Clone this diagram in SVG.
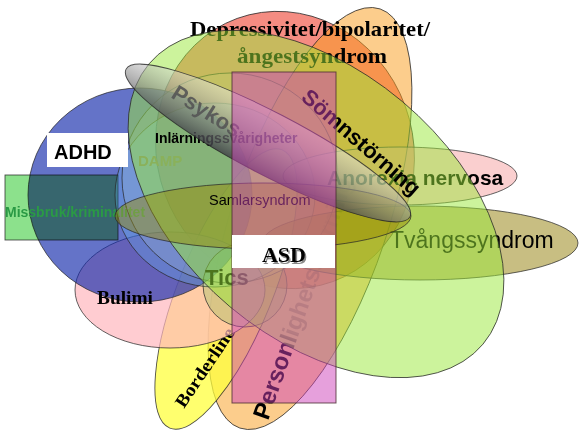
<svg xmlns="http://www.w3.org/2000/svg" width="586" height="439" viewBox="0 0 586 439">
<defs>
<linearGradient id="psyk" x1="0" y1="0" x2="0" y2="1">
<stop offset="0" stop-color="#f2f2f2" stop-opacity="0.45"/>
<stop offset="0.55" stop-color="#8c8c8c" stop-opacity="0.62"/>
<stop offset="1" stop-color="#3c3c44" stop-opacity="0.82"/>
</linearGradient>
<linearGradient id="persfade" gradientUnits="userSpaceOnUse" x1="268" y1="421" x2="522" y2="421">
<stop offset="0" stop-color="#000" stop-opacity="1"/>
<stop offset="0.3" stop-color="#000" stop-opacity="1"/>
<stop offset="0.36" stop-color="#000" stop-opacity="0.35"/>
<stop offset="1" stop-color="#000" stop-opacity="0.2"/>
</linearGradient>
</defs>
<style>
.s{stroke:#262626;stroke-opacity:0.8;stroke-width:0.9}
.ar{font-family:"Liberation Sans",Arial,sans-serif}
.bd{font-weight:bold}
.tm{font-family:"Liberation Serif","Times New Roman",serif;font-weight:bold}
</style>
<rect width="586" height="439" fill="#ffffff"/>

<g id="depressivitet-set">
<ellipse class="s" cx="285" cy="150" rx="128" ry="140" transform="rotate(-20 285 150)" fill="#ee3f2f" fill-opacity="0.6"/>
</g>

<g id="personlighetsstorning">
<ellipse class="s" cx="310" cy="218.5" rx="221" ry="78" transform="rotate(-71.5 310 218.5)" fill="#f99b19" fill-opacity="0.5"/>
<text class="ar bd" x="268" y="421" font-size="24" fill="url(#persfade)" transform="rotate(-70.5 268 421)">Personlighetsstörning</text>
</g>

<g id="borderline">
<ellipse class="s" cx="226" cy="289" rx="150" ry="47" transform="rotate(-68 226 289)" fill="#ffff3e" fill-opacity="0.75"/>
<text class="tm" x="184" y="409" font-size="18" textLength="92" lengthAdjust="spacingAndGlyphs" fill="#000" transform="rotate(-56 184 409)">Borderline</text>
</g>

<g id="bulimi">
<ellipse class="s" cx="170" cy="290" rx="95" ry="58" fill="#ffb6be" fill-opacity="0.7"/>
</g>

<g id="adhd">
<ellipse class="s" cx="140" cy="195" rx="112" ry="107" fill="#1128aa" fill-opacity="0.65"/>
</g>

<g id="missbruk">
<rect class="s" x="5" y="175" width="113" height="65" fill="#8ce18c" style="mix-blend-mode:multiply"/>
<text class="ar bd" x="5" y="217" font-size="14" fill="#2a9a45">Missbruk/kriminalitet</text>
</g>

<g id="bulimi-label">
<text class="tm" x="97" y="304" font-size="19" textLength="56" lengthAdjust="spacingAndGlyphs" fill="#000">Bulimi</text>
</g>

<g id="damp">
<ellipse class="s" cx="215" cy="195" rx="100" ry="92" fill="#66ccff" fill-opacity="0.25"/>
</g>

<g id="inlarning">
<ellipse class="s" cx="230" cy="178" rx="108" ry="105" fill="#d0ecd0" fill-opacity="0.15" stroke-opacity="0.35"/>
</g>

<g id="damp-label">
<text class="ar bd" x="138" y="166" font-size="15" fill="#7a7a7a">DAMP</text>
</g>

<g id="depressivitet-label">
<text class="tm" x="190" y="36" font-size="22" textLength="240" lengthAdjust="spacingAndGlyphs" fill="#000">Depressivitet/bipolaritet/</text>
<text class="tm" x="237" y="63" font-size="22" textLength="150" lengthAdjust="spacingAndGlyphs" fill="#000">ångestsyndrom</text>
</g>

<g id="anorexia">
<ellipse class="s" cx="400" cy="176" rx="117" ry="29" fill="#f5a0a0" fill-opacity="0.5"/>
<text class="ar bd" x="327" y="185" font-size="21" fill="#000">Anorexia nervosa</text>
</g>

<g id="tvangssyndrom">
<ellipse class="s" cx="420" cy="243" rx="158" ry="37" fill="#917d05" fill-opacity="0.5"/>
<text class="ar" x="390" y="248" font-size="23" fill="#000">Tvångssyndrom</text>
</g>

<g id="tics">
<ellipse class="s" cx="245" cy="285" rx="42" ry="42" fill="#66bb44" fill-opacity="0.25" stroke-opacity="0.35"/>
<text class="ar bd" x="205" y="285" font-size="22" fill="#000">Tics</text>
</g>

<g id="somnstorning">
<ellipse class="s" cx="316" cy="204" rx="218" ry="134" transform="rotate(40 316 204)" fill="#99e83a" fill-opacity="0.5"/>
<text class="ar bd" x="300" y="99" font-size="22" fill="#000" transform="rotate(41 300 99)">Sömnstörning</text>
</g>

<g id="samlarsyndrom">
<ellipse class="s" cx="263" cy="216" rx="148" ry="33" fill="#9a8a00" fill-opacity="0.45"/>
<text class="ar" x="209" y="205" font-size="14.5" fill="#000">Samlarsyndrom</text>
</g>

<g id="inlarning-label">
<text class="ar bd" x="155" y="143" font-size="14" fill="#000">Inlärningssvårigheter</text>
</g>

<g id="psykos">
<ellipse class="s" cx="268" cy="143" rx="160" ry="31" transform="rotate(27.5 268 143)" fill="url(#psyk)"/>
<text class="ar bd" x="170" y="97" font-size="22" fill="#555555" fill-opacity="0.9" transform="rotate(32 170 97)">Psykos</text>
</g>

<g id="asd">
<rect x="232" y="72" width="104" height="331" fill="#cd41b9" fill-opacity="0.5" stroke="#4a2a30" stroke-width="1" stroke-opacity="0.8"/>
<rect x="232" y="235" width="103" height="33" fill="#ffffff"/>
<text class="tm" x="285.5" y="263.5" font-size="22" text-anchor="middle" fill="#8a8a8a">ASD</text>
<text class="tm" x="284" y="262" font-size="22" text-anchor="middle" fill="#000">ASD</text>
</g>

<g id="adhd-label">
<rect x="47" y="133" width="81" height="34" fill="#ffffff"/>
<text class="ar bd" x="54" y="159" font-size="20" fill="#000">ADHD</text>
</g>
</svg>
